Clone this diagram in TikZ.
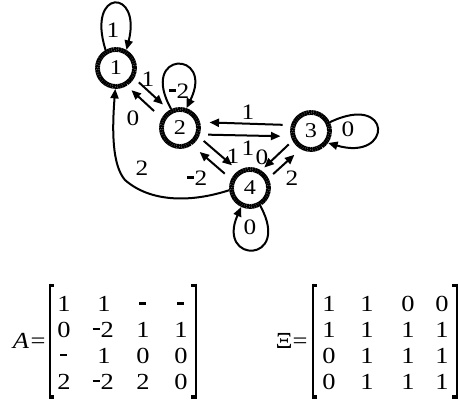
\documentclass[tikz,border=0pt]{standalone}
\usepackage{fontspec}
\setmainfont{Liberation Serif}[FakeStretch=1.15]
\usetikzlibrary{arrows.meta,calc}
\newcommand\mhy{\kern0.02em\rule[0.3em]{0.3em}{0.11em}\kern0.04em}
\begin{document}
\begin{tikzpicture}[x=1pt,y=-1pt,
  state/.style={circle,draw,line width=4.8pt,dash pattern=on 2pt off 0.4pt,minimum size=37pt,inner sep=0pt,font=\fontsize{21}{26}\selectfont},
  edge/.style={line width=2pt,-{Triangle[length=9.5pt,width=8pt]}},
  lbl/.style={inner sep=0pt,font=\fontsize{22}{26}\selectfont},
  ent/.style={inner sep=0pt,anchor=base,font=\fontsize{23}{28}\selectfont},
  brkline/.style={line width=2.2pt}]
\useasboundingbox (0,0) rectangle (460,404);

% states
\node[state] (n1) at (116,68) {1};
\node[state] (n2) at (180,128) {2};
\node[state] (n3) at (311,131) {3};
\node[state] (n4) at (250,188) {4};

% straight edges
\draw[edge] ($(n1)!27pt!11:(n2)$) -- ($(n2)!29pt!-11:(n1)$);
\draw[edge] ($(n2)!31pt!10:(n1)$) -- ($(n1)!27pt!-12:(n2)$);
\draw[edge] ($(n2)!29pt!-12:(n3)$) -- ($(n3)!31pt!11:(n2)$);
\draw[edge] ($(n3)!29pt!-11:(n2)$) -- ($(n2)!30pt!12:(n3)$);
\draw[edge] ($(n2)!27pt!12:(n4)$) -- ($(n4)!29pt!-11:(n2)$);
\draw[edge] ($(n4)!29pt!11:(n2)$) -- ($(n2)!31pt!-10:(n4)$);
\draw[edge] ($(n3)!26pt!-12:(n4)$) -- ($(n4)!25pt!12:(n3)$);
\draw[edge] ($(n4)!27pt!-12:(n3)$) -- ($(n3)!29pt!12:(n4)$);

% loops
\draw[edge] (n1.120) .. controls (86,-12) and (142,-12) .. (n1.60);
\draw[edge] (n2.115) .. controls (138,50) and (215,50) .. (n2.72);
\draw[edge] (n3.25) .. controls (393,92) and (393,162) .. (n3.-35);
\draw[edge] (n4.-60) .. controls (292,264) and (216,264) .. (n4.-115);

% long curve 4 -> 1
\draw[edge] (n4.186) .. controls (190,203) and (150,202) .. (125,180)
  .. controls (112,165) and (112,130) .. (n1.-92);

% edge labels
\node[lbl] (l11) at (113,30) {1};
\node[lbl] (l12) at (148,79) {1};
\node[lbl] (l21) at (133,118) {0};
\node[lbl] (l22) at (179,91) {\mhy2};
\node[lbl] (l32) at (248,112) {1};
\node[lbl] (l23) at (248,148) {1};
\node[lbl] (l24) at (233,156) {1};
\node[lbl] (l42) at (197,178) {\mhy2};
\node[lbl] (l34) at (262,157) {0};
\node[lbl] (l43) at (292,178) {2};
\node[lbl] (l33) at (348,129) {0};
\node[lbl] (l44) at (250,227) {0};
\node[lbl] (l41) at (142,168) {2};

% matrix A
\node[ent] (aA) at (21,348) {\itshape A};
\node[ent] (aeq) at (38,348) {=};
\fill (48.9,283.5) rectangle (54,286.8);
\fill (48.9,395.2) rectangle (54,398.5);
\draw[brkline] (50,283.5) -- (50,398.5);
\fill (191,283.5) rectangle (197.1,286.8);
\fill (191,395.2) rectangle (197.1,398.5);
\draw[brkline] (196,283.5) -- (196,398.5);
\node[ent] (a11) at (64,311.5) {1};
\node[ent] (a12) at (104,311.5) {1};
\node[ent] (a13) at (143,311.5) {\mhy};
\node[ent] (a14) at (181,311.5) {\mhy};
\node[ent] (a21) at (64,337.3) {0};
\node[ent] (a22) at (103,337.3) {\mhy2};
\node[ent] (a23) at (143,337.3) {1};
\node[ent] (a24) at (181,337.3) {1};
\node[ent] (a31) at (64,363) {\mhy};
\node[ent] (a32) at (104,363) {1};
\node[ent] (a33) at (143,363) {0};
\node[ent] (a34) at (181,363) {0};
\node[ent] (a41) at (64,389) {2};
\node[ent] (a42) at (103,389) {\mhy2};
\node[ent] (a43) at (143,389) {2};
\node[ent] (a44) at (181,389) {0};

% matrix Xi
\node[ent] (xX) at (284,348) {Ξ};
\node[ent] (xeq) at (300,348) {=};
\fill (312.2,283.5) rectangle (317.3,286.8);
\fill (312.2,395.2) rectangle (317.3,398.5);
\draw[brkline] (313.3,283.5) -- (313.3,398.5);
\fill (452.4,283.5) rectangle (458.4,286.8);
\fill (452.4,395.2) rectangle (458.4,398.5);
\draw[brkline] (457.3,283.5) -- (457.3,398.5);
\node[ent] (x11) at (329,311.5) {1};
\node[ent] (x12) at (367,311.5) {1};
\node[ent] (x13) at (408,311.5) {0};
\node[ent] (x14) at (442,311.5) {0};
\node[ent] (x21) at (329,337.3) {1};
\node[ent] (x22) at (367,337.3) {1};
\node[ent] (x23) at (408,337.3) {1};
\node[ent] (x24) at (442,337.3) {1};
\node[ent] (x31) at (329,363) {0};
\node[ent] (x32) at (367,363) {1};
\node[ent] (x33) at (408,363) {1};
\node[ent] (x34) at (442,363) {1};
\node[ent] (x41) at (329,389) {0};
\node[ent] (x42) at (367,389) {1};
\node[ent] (x43) at (408,389) {1};
\node[ent] (x44) at (442,389) {1};
\end{tikzpicture}
\end{document}
